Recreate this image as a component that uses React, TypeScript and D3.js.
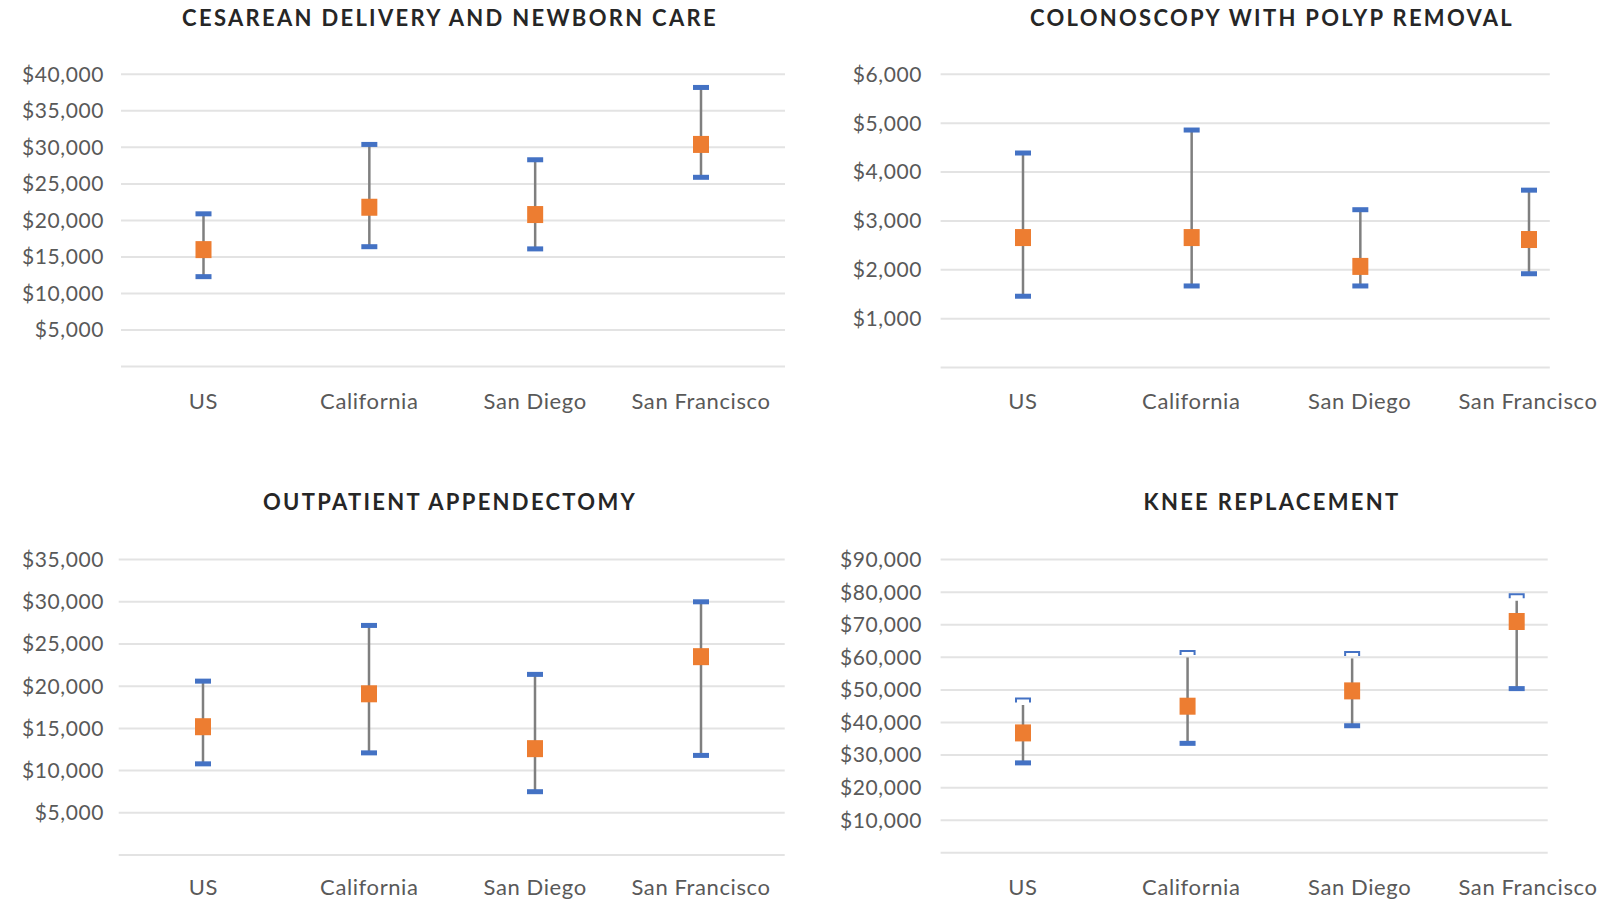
import React from 'react';
import * as d3 from 'd3';

const categories = ['US', 'California', 'San Diego', 'San Francisco'];

const cesareanLow = [12300, 16400, 16100, 25900];
const cesareanMid = [16000, 21800, 20800, 30400];
const cesareanHigh = [20900, 30400, 28300, 38200];
const cesareanTicks = [0, 5000, 10000, 15000, 20000, 25000, 30000, 35000, 40000];

const colonLow = [1460, 1670, 1670, 1920];
const colonMid = [2660, 2660, 2070, 2620];
const colonHigh = [4390, 4860, 3230, 3630];
const colonTicks = [0, 1000, 2000, 3000, 4000, 5000, 6000];

const appendLow = [10800, 12100, 7500, 11800];
const appendMid = [15200, 19100, 12600, 23500];
const appendHigh = [20600, 27200, 21400, 30000];
const appendTicks = [0, 5000, 10000, 15000, 20000, 25000, 30000, 35000];

const kneeLow = [27600, 33600, 39000, 50400];
const kneeMid = [36800, 45000, 49700, 71000];
const kneeHigh = [46900, 61500, 61200, 78900];
const kneeTicks = [0, 10000, 20000, 30000, 40000, 50000, 60000, 70000, 80000, 90000];

const BLUE = '#4472C4';
const ORANGE = '#ED7D31';
const FONT = 'Lato, "Open Sans", sans-serif';
const money = d3.format('$,');

type PanelProps = {
  title: string;
  titleX: number;
  titleY: number;
  low: number[];
  mid: number[];
  high: number[];
  ticks: number[];
  gridX: [number, number];
  yRange: [number, number];
  labelRight: number;
  markRange: [number, number];
  labelRange: [number, number];
  labelY: number;
  openHigh?: boolean;
};

const Panel = (p: PanelProps) => {
  const y = d3.scaleLinear()
    .domain([0, d3.max(p.ticks) as number])
    .range(p.yRange);
  const xMark = d3.scalePoint<string>().domain(categories).range(p.markRange);
  const xLabel = d3.scalePoint<string>().domain(categories).range(p.labelRange);
  const capW = 16;
  const capH = 5;
  const boxW = 16;
  const boxH = 17;

  return (
    <g>
      <text x={p.titleX} y={p.titleY} textAnchor="middle" fontFamily={FONT}
        fontWeight="bold" fontSize={22} letterSpacing={2.3} fill="#262626">
        {p.title}
      </text>
      {p.ticks.map(t => (
        <g key={t}>
          <line x1={p.gridX[0]} x2={p.gridX[1]} y1={y(t)} y2={y(t)}
            stroke="#e3e3e3" strokeWidth={2} />
          {t > 0 && (
            <text x={p.labelRight} y={y(t)} dy="0.35em" textAnchor="end"
              fontFamily={FONT} fontSize={21} letterSpacing={0.6} fill="#595959">
              {money(t)}
            </text>
          )}
        </g>
      ))}
      {categories.map((c, i) => {
        const cx = xMark(c) as number;
        return (
          <g key={c}>
            <line x1={cx} x2={cx} y1={y(p.low[i])} y2={y(p.high[i]) + (p.openHigh ? capH : 0)}
              stroke="#7f7f7f" strokeWidth={2.5} />
            <rect x={cx - capW / 2} y={y(p.low[i]) - capH / 2} width={capW} height={capH} fill={BLUE} />
            {p.openHigh ? (
              <path d={`M${cx - capW / 2 + 1},${y(p.high[i]) + capH / 2}V${y(p.high[i]) - capH / 2 + 1}H${cx + capW / 2 - 1}V${y(p.high[i]) + capH / 2}`}
                fill="none" stroke={BLUE} strokeWidth={2} />
            ) : (
              <rect x={cx - capW / 2} y={y(p.high[i]) - capH / 2} width={capW} height={capH} fill={BLUE} />
            )}
            <rect x={cx - boxW / 2} y={y(p.mid[i]) - boxH / 2} width={boxW} height={boxH} fill={ORANGE} />
            <text x={xLabel(c)} y={p.labelY} textAnchor="middle" fontFamily={FONT}
              fontSize={22} letterSpacing={0.6} fill="#595959">
              {c}
            </text>
          </g>
        );
      })}
    </g>
  );
};

const App = () => {
  return (
    <svg width={1619} height={900} style={{ position: 'absolute', left: 0, top: 0, background: '#fff' }}>
      <Panel title="CESAREAN DELIVERY AND NEWBORN CARE" titleX={450} titleY={26}
        low={cesareanLow} mid={cesareanMid} high={cesareanHigh} ticks={cesareanTicks}
        gridX={[121, 785]} yRange={[366.5, 74.3]} labelRight={104}
        markRange={[203.5, 701]} labelRange={[203.5, 701]} labelY={409} />
      <Panel title="COLONOSCOPY WITH POLYP REMOVAL" titleX={1272} titleY={26}
        low={colonLow} mid={colonMid} high={colonHigh} ticks={colonTicks}
        gridX={[940.6, 1549.8]} yRange={[367.6, 74.3]} labelRight={922}
        markRange={[1023, 1529]} labelRange={[1023, 1528]} labelY={409} />
      <Panel title="OUTPATIENT APPENDECTOMY" titleX={450} titleY={510}
        low={appendLow} mid={appendMid} high={appendHigh} ticks={appendTicks}
        gridX={[118.7, 784.7]} yRange={[855, 559.6]} labelRight={104}
        markRange={[203, 701]} labelRange={[203.5, 701]} labelY={895} />
      <Panel title="KNEE REPLACEMENT" titleX={1272} titleY={510}
        low={kneeLow} mid={kneeMid} high={kneeHigh} ticks={kneeTicks}
        gridX={[940.6, 1547.7]} yRange={[852.8, 559.6]} labelRight={922}
        markRange={[1023, 1516.7]} labelRange={[1023, 1528]} labelY={895} openHigh />
    </svg>
  );
};

export default App;
